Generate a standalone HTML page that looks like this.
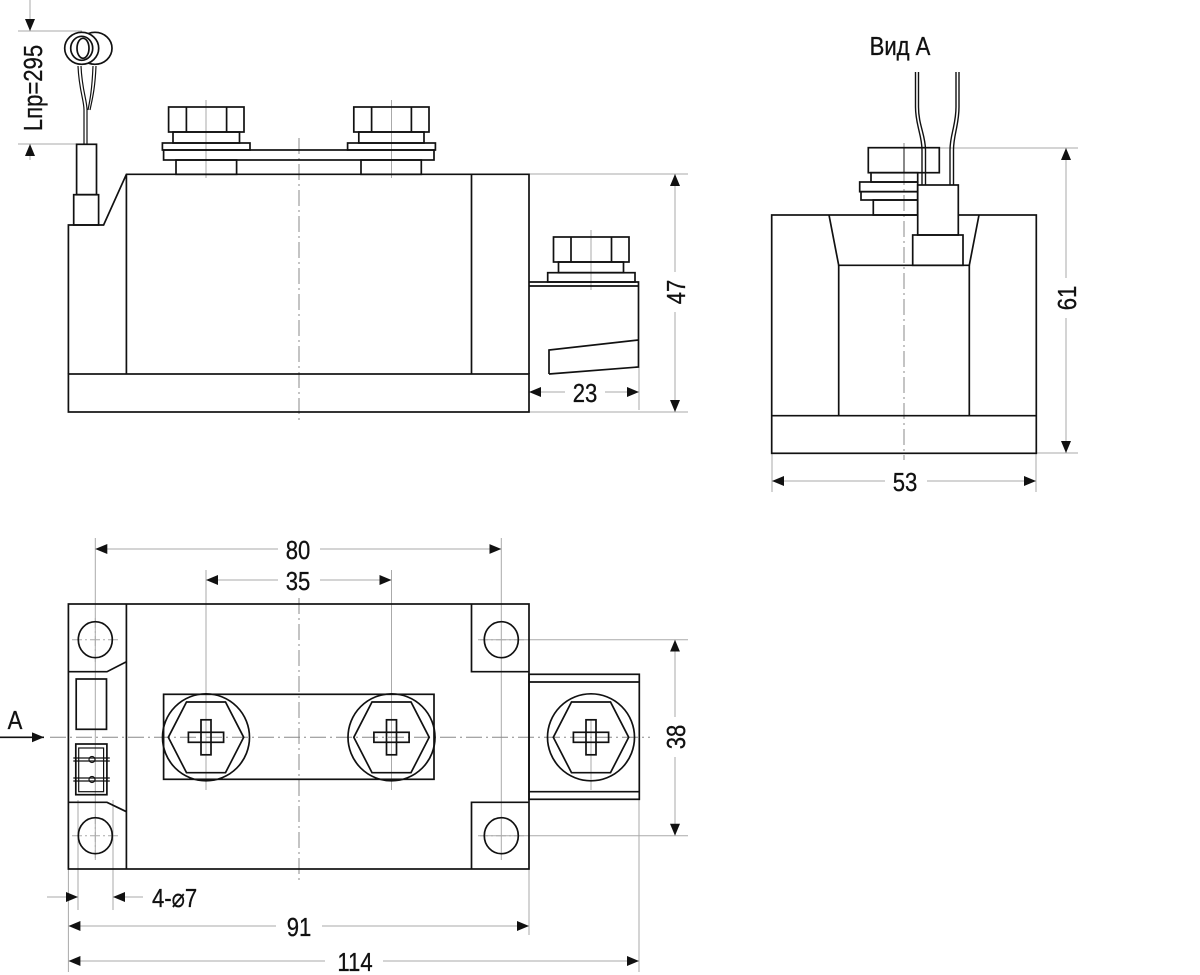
<!DOCTYPE html>
<html><head><meta charset="utf-8"><style>
html,body{margin:0;padding:0;background:#fff;}
svg{display:block;}
text{font-family:"Liberation Sans",sans-serif;font-size:26px;fill:#111;stroke:#111;stroke-width:0.3;}
</style></head><body>
<svg width="1200" height="975" viewBox="0 0 1200 975" xmlns="http://www.w3.org/2000/svg">
<defs>
<marker id="a" viewBox="0 0 12 10" refX="12" refY="5" markerWidth="12" markerHeight="10" markerUnits="userSpaceOnUse" orient="auto-start-reverse"><path d="M0,0 L12,5 L0,10 z" fill="#111"/></marker>
</defs>
<g fill="none" stroke="#aaa" stroke-width="1">
<line x1="18" y1="31" x2="82" y2="31"/><line x1="18" y1="144" x2="78" y2="144"/>
<line x1="529" y1="174" x2="688" y2="174"/><line x1="529" y1="412" x2="688" y2="412"/>
<line x1="639" y1="367" x2="639" y2="410"/>
<line x1="940" y1="148" x2="1078" y2="148"/><line x1="1036" y1="453" x2="1078" y2="453"/>
<line x1="772" y1="453" x2="772" y2="492"/><line x1="1036" y1="453" x2="1036" y2="492"/>
<line x1="95.3" y1="538" x2="95.3" y2="860"/><line x1="501.3" y1="538" x2="501.3" y2="860"/>
<line x1="206" y1="570" x2="206" y2="790"/><line x1="391.5" y1="570" x2="391.5" y2="790"/>
<line x1="591" y1="720" x2="591" y2="790"/>
<line x1="480" y1="639.7" x2="688" y2="639.7"/><line x1="480" y1="835.7" x2="688" y2="835.7"/>
<line x1="78" y1="800" x2="78" y2="910"/><line x1="113" y1="800" x2="113" y2="910"/>
<line x1="68.4" y1="869" x2="68.4" y2="972"/><line x1="529" y1="869" x2="529" y2="935"/><line x1="639" y1="799" x2="639" y2="972"/>
<line x1="206" y1="100" x2="206" y2="178"/><line x1="391.5" y1="100" x2="391.5" y2="178"/><line x1="591" y1="230" x2="591" y2="290"/>
<line x1="72" y1="639.7" x2="120" y2="639.7" stroke-dasharray="10,3,2,3"/><line x1="95.3" y1="618" x2="95.3" y2="662" stroke-dasharray="10,3,2,3"/>
<line x1="72" y1="835.7" x2="120" y2="835.7" stroke-dasharray="10,3,2,3"/><line x1="95.3" y1="814" x2="95.3" y2="858" stroke-dasharray="10,3,2,3"/>
<line x1="478" y1="639.7" x2="524" y2="639.7" stroke-dasharray="10,3,2,3"/>
<line x1="478" y1="835.7" x2="524" y2="835.7" stroke-dasharray="10,3,2,3"/>
</g>
<g stroke="#aaa" stroke-width="1" fill="none">
<line x1="30" y1="0" x2="30" y2="31" marker-end="url(#a)"/>
<line x1="30" y1="160" x2="30" y2="144" marker-end="url(#a)"/>
<line x1="675" y1="174" x2="675" y2="412" marker-start="url(#a)" marker-end="url(#a)"/>
<line x1="529" y1="392" x2="639" y2="392" marker-start="url(#a)" marker-end="url(#a)"/>
<line x1="1066" y1="148" x2="1066" y2="453" marker-start="url(#a)" marker-end="url(#a)"/>
<line x1="772" y1="481" x2="1036" y2="481" marker-start="url(#a)" marker-end="url(#a)"/>
<line x1="95.3" y1="549" x2="501.3" y2="549" marker-start="url(#a)" marker-end="url(#a)"/>
<line x1="206" y1="580" x2="391.5" y2="580" marker-start="url(#a)" marker-end="url(#a)"/>
<line x1="675" y1="639.7" x2="675" y2="835.7" marker-start="url(#a)" marker-end="url(#a)"/>
<line x1="47" y1="897" x2="78" y2="897" marker-end="url(#a)"/>
<line x1="143" y1="897" x2="113" y2="897" marker-end="url(#a)"/>
<line x1="68.4" y1="926" x2="529" y2="926" marker-start="url(#a)" marker-end="url(#a)"/>
<line x1="68.4" y1="961" x2="639" y2="961" marker-start="url(#a)" marker-end="url(#a)"/>
</g>
<g stroke="#888" stroke-width="1" stroke-dasharray="16,4,2,4" fill="none">
<line x1="299" y1="138" x2="299" y2="420"/>
<line x1="904" y1="143" x2="904" y2="460"/>
<line x1="299" y1="598" x2="299" y2="880"/>
<line x1="50" y1="737.3" x2="650" y2="737.3"/>
</g>
<g fill="#fff">
<rect x="15" y="40" width="32" height="100"/>
<rect x="660" y="272" width="30" height="40"/>
<rect x="565" y="380" width="40" height="26"/>
<rect x="1052" y="278" width="30" height="40"/>
<rect x="885" y="468" width="42" height="28"/>
<rect x="278" y="536" width="42" height="28"/>
<rect x="278" y="567" width="42" height="28"/>
<rect x="660" y="717" width="30" height="40"/>
<rect x="276" y="912" width="46" height="28"/>
<rect x="325" y="947" width="58" height="28"/>
</g>
<g fill="none" stroke="#111" stroke-width="1.7">
<rect x="68.4" y="374" width="460.6" height="38"/>
<polyline points="68.4,374 68.4,225 103.6,225 126.4,174.3 529,174.3 529,374"/>
<line x1="126.4" y1="174.3" x2="126.4" y2="374"/>
<line x1="471.5" y1="174.3" x2="471.5" y2="374"/>
<rect x="73.7" y="194.7" width="24.9" height="30.3"/>
<rect x="76.6" y="144.3" width="19.9" height="50.4"/>
<path d="M84,144 L84,110 C84,100 79,90 78,66 M87,144 L87,110 C87,100 82,90 81,66 M88,110 C90,100 92,90 93,66 M90,110 C92,100 95,90 96,66" stroke-width="1.2"/>
<ellipse cx="95" cy="48.3" rx="17" ry="16"/>
<ellipse cx="81.7" cy="48.3" rx="17" ry="16" fill="#fff"/>
<ellipse cx="81.7" cy="48.3" rx="11" ry="12"/>
<ellipse cx="83" cy="48.3" rx="6" ry="10"/>
<rect x="163.6" y="150" width="270.4" height="10"/>
<rect x="162.4" y="143" width="87.6" height="7"/>
<rect x="347.6" y="143" width="87.8" height="7"/>
<rect x="173" y="132" width="66.5" height="11"/>
<rect x="358.8" y="132" width="65.2" height="11"/>
<rect x="168.6" y="107" width="75.4" height="25"/>
<line x1="186.4" y1="107" x2="186.4" y2="132"/><line x1="226.6" y1="107" x2="226.6" y2="132"/>
<rect x="353.8" y="107" width="75.2" height="25"/>
<line x1="371.6" y1="107" x2="371.6" y2="132"/><line x1="411.4" y1="107" x2="411.4" y2="132"/>
<rect x="176" y="160" width="60.6" height="14.3"/>
<rect x="361" y="160" width="60.3" height="14.3"/>
<polyline points="529,282 638.5,282 638.5,367 549,374"/>
<line x1="529" y1="286" x2="638.5" y2="286"/>
<polyline points="549,374 549,350 638.5,340"/>
<rect x="547.7" y="272.7" width="87.3" height="9.3"/>
<rect x="558.5" y="262" width="65" height="10.7"/>
<rect x="553.5" y="237" width="75.5" height="25"/>
<line x1="571" y1="237" x2="571" y2="262"/><line x1="611.5" y1="237" x2="611.5" y2="262"/>
<rect x="771.7" y="215" width="264.6" height="238.3"/>
<line x1="771.7" y1="415.7" x2="1036.3" y2="415.7"/>
<polyline points="829,215 838.7,265.3 969.3,265.3 979,215"/>
<line x1="838.7" y1="265.3" x2="838.7" y2="415.7"/>
<line x1="969.3" y1="265.3" x2="969.3" y2="415.7"/>
<rect x="868.3" y="147.7" width="71" height="25"/>
<line x1="904" y1="147.7" x2="904" y2="172.7" stroke-width="1"/>
<rect x="871" y="172.7" width="46.7" height="9.3"/>
<rect x="859.7" y="182" width="58" height="9.7"/>
<rect x="861" y="191.7" width="56.7" height="8.3"/>
<rect x="873.3" y="200" width="44.4" height="15"/>
<rect x="917.7" y="185" width="40.6" height="50" fill="#fff"/>
<rect x="912.7" y="235" width="50.3" height="30.3"/>
<path d="M915.5,72 L915.5,107 C915.5,125 922,135 922,150 L922,185 M918.5,72 L918.5,107 C918.5,125 925.5,135 925.5,150 L925.5,185" stroke-width="1.4"/>
<path d="M956,72 L956,107 C956,125 950,135 950,150 L950,185 M959,72 L959,107 C959,125 953.5,135 953.5,150 L953.5,185" stroke-width="1.4"/>
<rect x="68.4" y="604" width="460.6" height="265"/>
<line x1="126.4" y1="604" x2="126.4" y2="869"/>
<polyline points="68.4,671.7 107,671.7 126.4,661.7"/>
<polyline points="68.4,802.3 107,802.3 126.4,811.7"/>
<polyline points="529,671.7 471.5,671.7 471.5,604"/>
<polyline points="529,802.3 471.5,802.3 471.5,869"/>
<ellipse cx="95.3" cy="639.7" rx="17" ry="18"/><ellipse cx="95.3" cy="835.7" rx="17" ry="18"/>
<ellipse cx="501.3" cy="639.7" rx="17" ry="18"/><ellipse cx="501.3" cy="835.7" rx="17" ry="18"/>
<rect x="76.2" y="679" width="30.3" height="50.3"/>
<rect x="75.8" y="744" width="31.1" height="50.7"/>
<rect x="78.7" y="748" width="24.9" height="43.7" stroke-width="1.2"/>
<line x1="73.3" y1="758" x2="109.8" y2="758" stroke-width="1.2"/><line x1="73.3" y1="761" x2="109.8" y2="761" stroke-width="1.2"/>
<line x1="73.3" y1="778" x2="109.8" y2="778" stroke-width="1.2"/><line x1="73.3" y1="781" x2="109.8" y2="781" stroke-width="1.2"/>
<circle cx="92" cy="759.5" r="3" stroke-width="1.2"/><circle cx="92" cy="779.5" r="3" stroke-width="1.2"/>
<rect x="163.6" y="694.3" width="270.4" height="85"/>
<rect x="529" y="674.3" width="110.3" height="125"/>
<line x1="529" y1="682" x2="639.3" y2="682"/><line x1="529" y1="791.7" x2="639.3" y2="791.7"/>
<g id="b1">
<circle cx="206" cy="737.3" r="43.5"/>
<polygon points="168.3,737.3 186.5,702 225.5,702 243.7,737.3 225.5,772.7 186.5,772.7"/>
<rect x="188.4" y="732.3" width="35.2" height="10"/>
<rect x="201" y="719.8" width="10" height="35"/>
</g>
<use href="#b1" x="185.5"/>
<use href="#b1" x="385"/>
<line x1="0" y1="737.3" x2="44" y2="737.3" marker-end="url(#a)"/>
</g>
<text transform="translate(42,88) rotate(-90) scale(0.85,1)" text-anchor="middle">Lпр=295</text>
<text transform="translate(685,292) rotate(-90) scale(0.85,1)" text-anchor="middle">47</text>
<text transform="translate(585,402) scale(0.85,1)" text-anchor="middle">23</text>
<text transform="translate(900,55) scale(0.85,1)" text-anchor="middle">Вид А</text>
<text transform="translate(1076,298) rotate(-90) scale(0.85,1)" text-anchor="middle">61</text>
<text transform="translate(905,491) scale(0.85,1)" text-anchor="middle">53</text>
<text transform="translate(298,559) scale(0.85,1)" text-anchor="middle">80</text>
<text transform="translate(298,590) scale(0.85,1)" text-anchor="middle">35</text>
<text transform="translate(685,737) rotate(-90) scale(0.85,1)" text-anchor="middle">38</text>
<text transform="translate(15,729) scale(0.85,1)" text-anchor="middle">A</text>
<text transform="translate(152,907) scale(0.85,1)">4-⌀7</text>
<text transform="translate(299,936) scale(0.85,1)" text-anchor="middle">91</text>
<text transform="translate(355,971) scale(0.85,1)" text-anchor="middle">114</text>
</svg>
</body></html>
